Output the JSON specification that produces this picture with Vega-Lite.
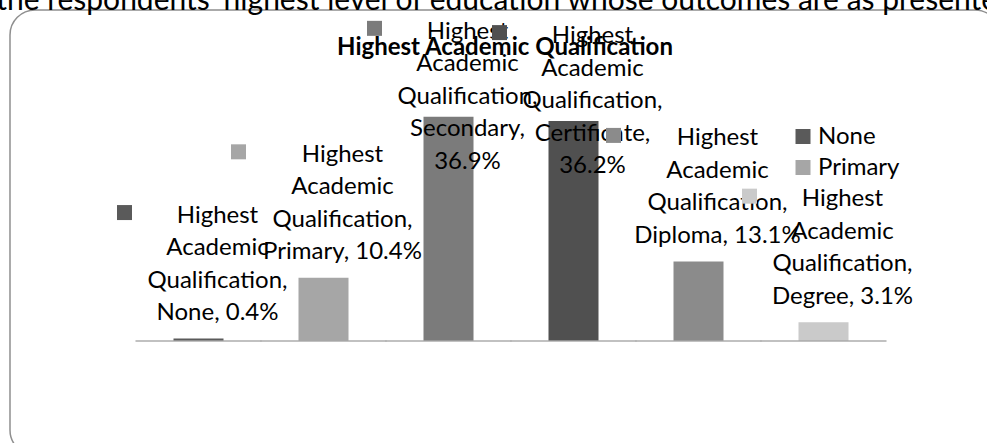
{
  "$schema": "https://vega.github.io/schema/vega-lite/v6.json",
  "width": 990,
  "height": 445,
  "autosize": {"type": "none"},
  "padding": {"left": 10, "top": 10, "right": -13, "bottom": -12},
  "background": "white",
  "config": {
    "view": {"stroke": "#8f8f8f", "strokeWidth": 1.5, "cornerRadius": 25},
    "font": "Lato"
  },
  "title": {
    "text": "the respondents' highest level of education whose outcomes are as presented",
    "subtitle": "Highest Academic Qualification",
    "anchor": "middle",
    "frame": "group",
    "font": "Lato",
    "fontSize": 30,
    "fontWeight": "normal",
    "color": "black",
    "subtitleFont": "Lato",
    "subtitleFontSize": 24,
    "subtitleFontWeight": "bold",
    "subtitleColor": "black",
    "subtitlePadding": 20,
    "offset": -50
  },
  "data": {
    "values": [
      {"cat": "None", "pct": 0.4, "label": "Highest\nAcademic\nQualification,\nNone, 0.4%"},
      {"cat": "Primary", "pct": 10.4, "label": "Highest\nAcademic\nQualification,\nPrimary, 10.4%"},
      {"cat": "Secondary", "pct": 36.9, "label": "Highest\nAcademic\nQualification,\nSecondary,\n36.9%"},
      {"cat": "Certificate", "pct": 36.2, "label": "Highest\nAcademic\nQualification,\nCertificate,\n36.2%"},
      {"cat": "Diploma", "pct": 13.1, "label": "Highest\nAcademic\nQualification,\nDiploma, 13.1%"},
      {"cat": "Degree", "pct": 3.1, "label": "Highest\nAcademic\nQualification,\nDegree, 3.1%"}
    ]
  },
  "encoding": {
    "x": {
      "field": "cat", "type": "nominal", "sort": null, "axis": null,
      "scale": {"domain": ["None", "Primary", "Secondary", "Certificate", "Diploma", "Degree"], "paddingInner": 0, "paddingOuter": 0.96, "align": 0.525}
    },
    "y": {
      "field": "pct", "type": "quantitative", "axis": null,
      "scale": {"domain": [-18.77, 54.49], "nice": false, "zero": false}
    },
    "color": {
      "field": "cat", "type": "nominal",
      "scale": {
        "domain": ["None", "Primary", "Secondary", "Certificate", "Diploma", "Degree"],
        "range": ["#5a5a5a", "#a6a6a6", "#7b7b7b", "#505050", "#8b8b8b", "#cacaca"]
      },
      "legend": {
        "values": ["None", "Primary"],
        "orient": "none", "legendX": 781, "legendY": 114.5,
        "title": null, "padding": 0,
        "symbolType": "square", "symbolSize": 225, "symbolStrokeWidth": 0,
        "labelFont": "Lato", "labelFontSize": 24, "labelColor": "black",
        "labelOffset": 3, "rowPadding": 7
      }
    }
  },
  "layer": [
    {
      "mark": {"type": "bar", "width": {"band": 0.4}},
      "encoding": {"y2": {"datum": 0}}
    },
    {
      "mark": {"type": "tick", "orient": "horizontal", "size": 126, "thickness": 2},
      "encoding": {"y": {"datum": 0}, "color": {"value": "#a6a6a6"}}
    },
    {
      "transform": [{"filter": "datum.pct < 30"}],
      "mark": {"type": "text", "lineBreak": "\n", "font": "Lato", "fontSize": 24, "lineHeight": 32.5, "align": "center", "baseline": "bottom", "dx": 19, "dy": -111},
      "encoding": {"text": {"field": "label"}, "color": {"value": "black"}}
    },
    {
      "transform": [{"filter": "datum.pct >= 30"}],
      "mark": {"type": "text", "lineBreak": "\n", "font": "Lato", "fontSize": 24, "lineHeight": 32.5, "align": "center", "baseline": "bottom", "dx": 19, "dy": -73},
      "encoding": {"text": {"field": "label"}, "color": {"value": "black"}}
    },
    {
      "transform": [{"filter": {"field": "cat", "oneOf": ["None", "Degree"]}}],
      "mark": {"type": "point", "shape": "square", "size": 225, "filled": true, "opacity": 1, "strokeWidth": 0, "xOffset": -74, "yOffset": -126}
    },
    {
      "transform": [{"filter": {"field": "cat", "oneOf": ["Primary", "Diploma"]}}],
      "mark": {"type": "point", "shape": "square", "size": 225, "filled": true, "opacity": 1, "strokeWidth": 0, "xOffset": -85, "yOffset": -126}
    },
    {
      "transform": [{"filter": {"field": "cat", "oneOf": ["Secondary", "Certificate"]}}],
      "mark": {"type": "point", "shape": "square", "size": 225, "filled": true, "opacity": 1, "strokeWidth": 0, "xOffset": -74, "yOffset": -88.5}
    }
  ]
}
